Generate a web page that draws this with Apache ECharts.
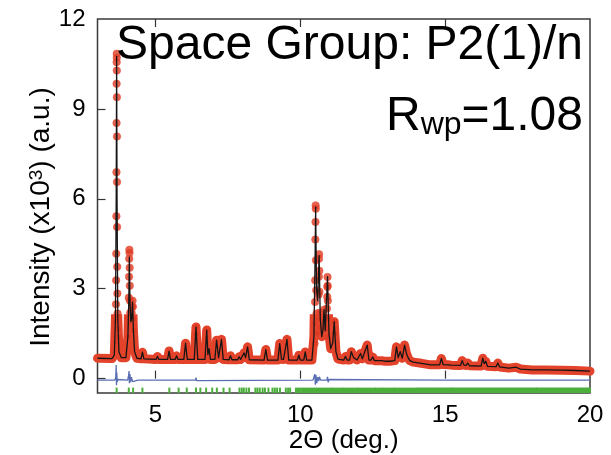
<!DOCTYPE html>
<html>
<head>
<meta charset="utf-8">
<script src="https://cdn.jsdelivr.net/npm/echarts@6/dist/echarts.min.js"></script>
<style>
  html, body { margin: 0; padding: 0; background: #fff; }
  #chart { width: 611px; height: 455px; }
</style>
</head>
<body>
<div id="chart"></div>
<script>
// Synchrotron powder pattern, Rietveld fit (2θ in degrees, intensity in 10^3 counts)

// Calculated profile: background plus reflections
const calcCurve = [
  [3.00,0.68],[3.50,0.67],[3.58,0.78],[3.62,2.0],[3.645,6.0],[3.66,10.75],[3.675,6.0],[3.70,2.0],[3.74,0.9],[3.82,0.70],
  [3.98,0.70],[4.05,1.4],[4.08,2.6],[4.10,4.05],[4.12,2.6],[4.15,1.9],[4.18,2.0],[4.21,2.55],[4.24,1.6],[4.28,0.9],[4.36,0.68],
  [4.50,0.66],[4.55,0.88],[4.60,0.66],
  [5.02,0.64],[5.07,0.74],[5.12,0.64],
  [5.42,0.64],[5.47,0.92],[5.52,0.64],
  [5.68,0.64],[5.73,0.76],[5.78,0.64],
  [5.98,0.64],[6.04,1.18],[6.10,0.64],
  [6.34,0.64],[6.40,1.72],[6.46,0.64],
  [6.71,0.64],[6.77,1.62],[6.81,0.80],[6.85,1.0],[6.90,0.64],
  [7.05,0.64],[7.11,1.28],[7.18,0.70],[7.28,1.31],[7.34,0.64],
  [7.54,0.63],[7.59,0.76],[7.64,0.63],
  [7.84,0.63],[7.89,0.73],[7.94,0.64],[8.06,0.86],[8.11,0.70],[8.18,1.06],[8.24,0.63],
  [8.75,0.62],[8.81,0.97],[8.87,0.62],
  [9.23,0.62],[9.29,1.17],[9.35,0.65],[9.42,0.64],[9.54,1.31],[9.60,0.62],
  [9.90,0.62],[9.95,0.78],[10.00,0.62],
  [10.12,0.62],[10.17,0.89],[10.22,0.62],
  [10.40,0.62],[10.47,1.4],[10.51,4.0],[10.53,5.72],[10.56,3.0],[10.60,2.6],[10.65,4.1],[10.69,2.0],[10.74,1.4],
  [10.78,1.6],[10.82,2.3],[10.86,1.6],[10.94,3.4],[10.99,1.5],[11.05,1.0],[11.12,1.2],[11.17,1.9],[11.23,0.9],[11.30,0.65],
  [11.50,0.62],[11.56,0.74],[11.62,0.62],
  [11.70,0.62],[11.76,0.90],[11.84,0.70],[11.90,0.68],[11.96,0.62],
  [12.02,0.62],[12.08,0.84],[12.14,0.66],[12.20,0.64],[12.31,1.12],[12.37,0.62],
  [12.44,0.62],[12.50,0.72],[12.56,0.60],
  [12.80,0.60],[12.86,0.66],[12.92,0.58],[13.10,0.58],
  [13.26,0.60],[13.32,1.06],[13.38,0.70],[13.45,0.90],[13.52,0.68],[13.60,1.12],[13.66,0.85],[13.72,0.70],[13.78,0.60],[13.90,0.55],
  [14.12,0.52],[14.18,0.58],[14.24,0.50],
  [14.50,0.46],[14.81,0.46],[14.87,0.67],[14.93,0.47],
  [15.10,0.46],[15.16,0.52],[15.22,0.45],
  [15.53,0.44],[15.59,0.60],[15.65,0.45],[15.72,0.44],[15.78,0.52],[15.84,0.43],
  [16.24,0.42],[16.30,0.68],[16.35,0.50],[16.40,0.58],[16.46,0.41],
  [16.76,0.40],[16.82,0.52],[16.88,0.39],
  [17.20,0.35],[17.45,0.38],[17.60,0.32],
  [18.00,0.29],[18.50,0.29],[19.00,0.28],[19.50,0.27],[20.00,0.25]
];

// Observed points on the flanks of the strong reflections
const obsDots = [
  [3.625,1.23],[3.632,1.89],[3.638,2.48],[3.644,3.28],[3.648,4.17],[3.652,5.42],[3.655,6.89],[3.657,8.53],[3.659,9.84],[3.661,10.56],[3.663,10.84],
  [3.665,10.71],[3.667,10.28],[3.669,9.39],[3.671,8.08],[3.673,6.56],[3.676,5.06],[3.680,3.73],[3.686,2.84],[3.692,2.17],[3.698,1.67],[3.706,1.39],
  [4.06,1.4],[4.07,2.0],[4.08,2.7],[4.09,3.4],[4.095,4.0],[4.10,4.3],[4.105,4.2],[4.11,3.7],[4.115,3.1],[4.12,2.6],[4.13,2.2],
  [4.16,1.9],[4.18,2.2],[4.20,2.4],[4.21,2.6],[4.22,2.4],[4.23,2.0],[4.25,1.6],
  [6.39,1.5],[6.40,1.72],[6.41,1.5],[6.77,1.62],
  [10.49,1.17],[10.50,1.84],[10.51,2.56],[10.515,3.28],[10.52,4.64],[10.525,5.23],[10.53,5.78],
  [10.535,5.67],[10.54,3.95],[10.55,2.95],[10.56,2.17],[10.57,1.51],
  [10.62,2.0],[10.63,2.8],[10.64,3.4],[10.645,4.0],[10.65,4.15],[10.655,3.6],[10.66,2.9],[10.67,2.2],[10.69,1.7],
  [10.80,1.7],[10.81,2.1],[10.82,2.3],[10.83,2.0],
  [10.90,1.67],[10.91,2.0],[10.92,2.34],[10.93,2.73],[10.935,3.06],[10.94,3.39],[10.945,3.1],[10.95,2.6],[10.96,2.0],[10.97,1.39],
  [11.15,1.5],[11.17,1.9],[11.19,1.5]
];

// Difference curve (observed - calculated), drawn with a small offset
const diffCurve = [
  [3.00,-0.05],[3.60,-0.05],[3.63,0.05],[3.645,0.45],[3.655,-0.22],[3.665,0.20],[3.68,-0.12],[3.70,-0.03],[3.75,-0.06],
  [4.04,-0.05],[4.07,0.08],[4.09,0.25],[4.10,-0.15],[4.12,0.15],[4.14,-0.12],[4.17,0.05],[4.21,-0.10],[4.26,-0.04],[4.40,-0.05],
  [6.38,-0.05],[6.40,0.03],[6.42,-0.07],[6.46,-0.05],
  [10.44,-0.05],[10.48,0.0],[10.50,0.15],[10.52,-0.20],[10.54,0.12],[10.57,-0.15],[10.60,0.05],[10.64,-0.08],[10.66,0.06],[10.70,-0.05],
  [10.92,-0.05],[10.94,0.06],[10.96,-0.12],[10.99,-0.03],[11.05,-0.05],
  [15.00,-0.05],[15.02,0.0],[15.04,-0.07],[15.10,-0.05],[20.00,-0.05]
];

// Bragg reflection positions (isolated) and ranges where they run together
const braggPositions = [3.66, 4.08, 4.23, 4.55, 5.48, 5.80, 6.08, 6.40, 6.55, 6.75, 6.96, 7.12, 7.35, 7.56,
  7.90, 7.98, 8.05, 8.14, 8.23, 8.45, 8.52, 8.60, 8.70, 8.78, 8.90, 9.04, 9.12, 9.20, 9.30, 9.50, 9.58, 9.65];
const braggRanges = [[9.85, 9.97], [10.03, 11.05], [11.09, 11.45], [11.49, 11.96], [12.00, 12.58], [12.62, 12.82],
  [12.86, 13.24], [13.28, 14.03], [14.07, 15.24], [15.28, 18.13], [18.17, 20.0]];

const xTickValues = [5, 10, 15];
const xLabelValues = [5, 10, 15, 20];
const yTickValues = [0, 3, 6, 9];
const yLabelValues = [0, 3, 6, 9, 12];

const X_MIN = 3, X_MAX = 20, Y_MIN = -0.48, Y_MAX = 12;
const BAND_CAP = 2.0;      // dense observed points merge into a band below this level
const BRAGG_TOP = -0.30;
const FONT = 'Liberation Sans, Arial, sans-serif';
const RED = '#e4432b', DOT = '#dc3b24', BLUE = '#5a6fb3', GREEN = '#4caf3c';

const G = { left: 97.5, right: 21, top: 19, bottom: 62 };
const plotH = 455 - G.top - G.bottom;
const bandTop = G.top + (Y_MAX - BAND_CAP) / (Y_MAX - Y_MIN) * plotH;

const chart = echarts.init(document.getElementById('chart'), null, { renderer: 'canvas' });

function braggTick(params, api) {
  const x = api.value(0);
  const a = api.coord([x, BRAGG_TOP]);
  const b = api.coord([x, Y_MIN]);
  return { type: 'rect', shape: { x: a[0] - 1, y: a[1], width: 2, height: b[1] - a[1] }, style: { fill: GREEN } };
}
function braggRange(params, api) {
  const a = api.coord([api.value(0), BRAGG_TOP]);
  const b = api.coord([api.value(1), Y_MIN]);
  return { type: 'rect', shape: { x: a[0] - 1, y: a[1], width: b[0] - a[0] + 2, height: b[1] - a[1] }, style: { fill: GREEN } };
}

chart.setOption({
  animation: false,
  backgroundColor: '#fff',
  textStyle: { fontFamily: FONT },
  grid: [
    { left: G.left, right: G.right, top: G.top, bottom: G.bottom, containLabel: false, outerBoundsMode: 'none',
      show: true, borderColor: '#3a3a3a', borderWidth: 1.5, backgroundColor: 'transparent' },
    { left: G.left, right: G.right, top: bandTop, bottom: G.bottom, containLabel: false, outerBoundsMode: 'none', show: false }
  ],
  xAxis: [
    {
      type: 'value', gridIndex: 0, min: X_MIN, max: X_MAX, position: 'bottom',
      name: '2Θ (deg.)', nameLocation: 'middle', nameGap: 35, nameMoveOverlap: false,
      nameTextStyle: { fontSize: 26, color: '#000', fontFamily: FONT },
      axisLine: { show: false },
      axisTick: { show: true, inside: true, length: 8, customValues: xTickValues, lineStyle: { color: '#333', width: 1.2 } },
      axisLabel: { customValues: xLabelValues, fontSize: 24, color: '#000', margin: 10, fontFamily: FONT },
      splitLine: { show: false }
    },
    {
      type: 'value', gridIndex: 0, min: X_MIN, max: X_MAX, position: 'top',
      axisLine: { show: false },
      axisTick: { show: true, inside: true, length: 8, customValues: xTickValues, lineStyle: { color: '#333', width: 1.2 } },
      axisLabel: { show: false }, splitLine: { show: false }
    },
    { type: 'value', gridIndex: 1, min: X_MIN, max: X_MAX, show: false }
  ],
  yAxis: [
    {
      type: 'value', gridIndex: 0, min: Y_MIN, max: Y_MAX,
      name: '{t|Intensity (x10}{s|3}{t|) (a.u.)}', nameLocation: 'middle', nameGap: 42, nameRotate: 90, nameMoveOverlap: false,
      nameTextStyle: {
        color: '#000', fontFamily: FONT, padding: [0, 0, 0, -22],
        rich: {
          t: { fontSize: 28, color: '#000', fontFamily: FONT },
          s: { fontSize: 19, color: '#000', fontFamily: FONT, verticalAlign: 'top' }
        }
      },
      axisLine: { show: false },
      axisTick: { show: true, inside: true, length: 8, customValues: yTickValues, lineStyle: { color: '#333', width: 1.2 } },
      axisLabel: { customValues: yLabelValues, fontSize: 24, color: '#000', margin: 12, fontFamily: FONT },
      splitLine: { show: false }
    },
    { type: 'value', gridIndex: 1, min: Y_MIN, max: BAND_CAP, show: false }
  ],
  series: [
    {
      name: 'Bragg', type: 'custom', xAxisIndex: 0, yAxisIndex: 0, z: 1,
      renderItem: braggTick, data: braggPositions.map(v => [v]), encode: { x: 0 }
    },
    {
      name: 'Bragg ranges', type: 'custom', xAxisIndex: 0, yAxisIndex: 0, z: 1,
      renderItem: braggRange, data: braggRanges, encode: { x: [0, 1] }
    },
    {
      name: 'Difference', type: 'line', xAxisIndex: 0, yAxisIndex: 0, z: 2,
      data: diffCurve, showSymbol: false, symbol: 'none',
      lineStyle: { color: BLUE, width: 1.3 }
    },
    {
      name: 'Observed band', type: 'line', xAxisIndex: 2, yAxisIndex: 1, z: 3, clip: true,
      data: calcCurve, showSymbol: false, symbol: 'none',
      lineStyle: { color: RED, width: 9, cap: 'round', join: 'round' }
    },
    {
      name: 'Observed', type: 'scatter', xAxisIndex: 0, yAxisIndex: 0, z: 4,
      data: obsDots, symbol: 'circle', symbolSize: 7.5,
      itemStyle: { color: DOT, borderColor: 'rgba(238,80,55,0.7)', borderWidth: 1 }
    },
    {
      name: 'Calculated', type: 'line', xAxisIndex: 0, yAxisIndex: 0, z: 5,
      data: calcCurve, showSymbol: false, symbol: 'none',
      lineStyle: { color: '#151515', width: 1.3, join: 'round' }
    }
  ],
  graphic: [
    {
      type: 'text', right: 28, top: 22, z: 10,
      style: { text: 'Space Group: P2(1)/n', font: '48px ' + FONT, fill: '#000' }
    },
    {
      type: 'text', right: 28, top: 93, z: 10,
      style: {
        text: '{r|R}{s|wp}{r|=1.08}',
        rich: {
          r: { fontSize: 48, fontFamily: FONT, fill: '#000' },
          s: { fontSize: 32, fontFamily: FONT, fill: '#000', verticalAlign: 'bottom', padding: [14, 0, 0, 0] }
        }
      }
    }
  ]
});
</script>
</body>
</html>
